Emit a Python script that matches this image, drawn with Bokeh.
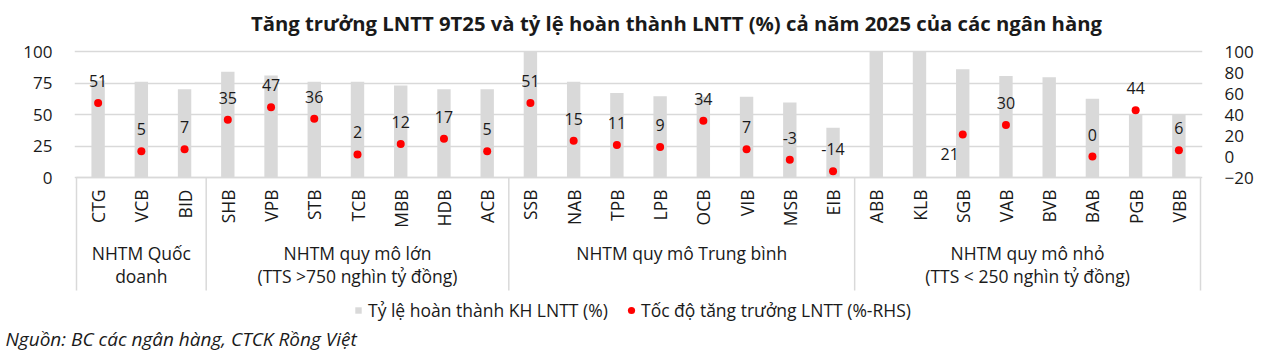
import math
from bokeh.plotting import figure
from bokeh.models import (Range1d, LinearAxis, FixedTicker, ColumnDataSource,
                          Legend, LegendItem, Title)
from bokeh.core.properties import value
from bokeh.embed import file_html
from bokeh.resources import INLINE

# ---------------- data ----------------
banks = ["CTG", "VCB", "BID",
         "SHB", "VPB", "STB", "TCB", "MBB", "HDB", "ACB",
         "SSB", "NAB", "TPB", "LPB", "OCB", "VIB", "MSB", "EIB",
         "ABB", "KLB", "SGB", "VAB", "BVB", "BAB", "PGB", "VBB"]
completion = [77, 76, 70,
              84, 81, 76, 76, 73, 70, 70,
              100, 76, 67, 64.5, 64, 64, 59.5, 39.5,
              100, 100, 86, 80.5, 79.5, 62.5, 50, 50]
growth = [51, 5, 7,
          35, 47, 36, 2, 12, 17, 5,
          51, 15, 11, 9, 34, 7, -3, -14,
          None, None, 21, 30, None, 0, 44, 6]
group_names = [["NHTM Quốc", "doanh"],
               ["NHTM quy mô lớn", "(TTS >750 nghìn tỷ đồng)"],
               ["NHTM quy mô Trung bình"],
               ["NHTM quy mô nhỏ", "(TTS < 250 nghìn tỷ đồng)"]]
group_sizes = [3, 7, 8, 8]
left_ticks = [0, 25, 50, 75, 100]
right_ticks = [-20, 0, 20, 40, 60, 80, 100]

title_text = "Tăng trưởng LNTT 9T25 và tỷ lệ hoàn thành LNTT (%) cả năm 2025 của các ngân hàng"
legend_bar = "Tỷ lệ hoàn thành KH LNTT (%)"
legend_dot = "Tốc độ tăng trưởng LNTT (%-RHS)"
source_text = "Nguồn: BC các ngân hàng, CTCK Rồng Việt"

FONT = "Open Sans"
GREY = "#d9d9d9"
TXT = "#1a1a1a"

# ---------------- geometry (pixels) ----------------
W, H = 1280, 352
HA = 322              # height of the plotting frame
X0PX, X1PX = 76, 1200  # category band
Y0PX, Y100PX = 177, 51  # left-axis 0 and 100
FL, FR = 74, 1202      # frame left/right
n = len(banks)
ppx = (X1PX - X0PX) / n
ppy = (Y0PX - Y100PX) / 100.0
ppr = (Y0PX - Y100PX) / 120.0

def X(px):
    return (px - X0PX) / ppx

def Y(py):
    return (Y0PX - py) / ppy

xs = [i + 0.5 for i in range(n)]

p = figure(frame_width=FR - FL, frame_height=HA,
           min_border_left=FL, min_border_right=W - FR,
           min_border_top=0, min_border_bottom=H - HA,
           x_range=Range1d(X(FL), X(FR)), y_range=Range1d(Y(HA), Y(0)),
           x_axis_type=None,
           output_backend="svg", toolbar_location=None,
           background_fill_color="white", border_fill_color="white")
p.outline_line_color = None
p.xgrid.visible = False
p.ygrid.grid_line_color = GREY
p.ygrid.grid_line_width = 1.5
p.ygrid.ticker = FixedTicker(ticks=left_ticks)

# left axis
p.yaxis.ticker = FixedTicker(ticks=left_ticks)
p.yaxis.axis_line_color = None
p.yaxis.major_tick_line_color = None
p.yaxis.minor_tick_line_color = None
p.yaxis.major_label_text_font = FONT
p.yaxis.major_label_text_font_size = "17px"
p.yaxis.major_label_text_color = TXT
p.yaxis.major_label_standoff = 16

# right axis (-20 at 0-line, 100 at top line)
p.extra_y_ranges = {"r": Range1d(-20 - (HA - Y0PX) / ppr, 100 + Y100PX / ppr)}
ra = LinearAxis(y_range_name="r", ticker=FixedTicker(ticks=right_ticks))
ra.axis_line_color = None
ra.major_tick_line_color = None
ra.minor_tick_line_color = None
ra.major_label_text_font = FONT
ra.major_label_text_font_size = "17px"
ra.major_label_text_color = TXT
ra.major_label_standoff = 16
p.add_layout(ra, "right")

# bars
bar_src = ColumnDataSource(dict(x=xs, top=completion))
bars = p.vbar(x="x", top="top", width=0.31, bottom=0, source=bar_src,
              fill_color=GREY, line_color=None)

# category axis line and group separators
bounds = [0]
for s in group_sizes:
    bounds.append(bounds[-1] + s)
p.segment(x0=[0], y0=[0], x1=[n], y1=[0], line_color=GREY, line_width=1.5)
p.segment(x0=bounds, y0=[0] * len(bounds), x1=bounds, y1=[Y(290)] * len(bounds),
          line_color=GREY, line_width=1.5)

# bank names (rotated tick labels)
p.text(x=xs, y=[Y(Y0PX + 12)] * n, text=banks, angle=math.pi / 2,
       text_align="right", text_baseline="middle",
       text_font=value(FONT), text_font_size="17.5px", text_color=TXT)

# dots + value labels
dx, dy, dl, xo, yo = [], [], [], [], []
for x, g, b in zip(xs, growth, banks):
    if g is None:
        continue
    dx.append(x)
    dy.append(g)
    dl.append(str(g))
    if b == "SGB":
        xo.append(-13)
        yo.append(20)
    else:
        xo.append(0)
        yo.append(-22)
dot_src = ColumnDataSource(dict(x=dx, y=dy, lab=dl, xo=xo, yo=yo))
dots = p.scatter(x="x", y="y", size=8, marker="circle", fill_color="#ff0000",
                 line_color=None, y_range_name="r", source=dot_src)
p.text(x="x", y="y", text="lab", x_offset="xo", y_offset="yo", y_range_name="r",
       source=dot_src, text_align="center", text_baseline="middle",
       text_font=value(FONT), text_font_size="16px", text_color=TXT)

# group labels
gx, gy, gt = [], [], []
for i, lines in enumerate(group_names):
    cx = (bounds[i] + bounds[i + 1]) / 2
    for j, line in enumerate(lines):
        gx.append(cx)
        gy.append(Y(252 + 23 * j))
        gt.append(line)
p.text(x=gx, y=gy, text=gt, text_align="center", text_baseline="middle",
       text_font=value(FONT), text_font_size="17.5px", text_color=TXT)

# title
p.text(x=[X(676)], y=[Y(22)], text=[title_text], text_align="center",
       text_baseline="middle", text_font=value(FONT), text_font_style="bold",
       text_font_size="20.3px", text_color=TXT)

# legends (one per entry so each key gets its own glyph size)
leg_common = dict(orientation="horizontal", padding=0, margin=0, spacing=0,
                  label_text_font=FONT, label_text_font_size="17.5px",
                  label_text_color=TXT, label_text_baseline="middle",
                  border_line_color=None, background_fill_alpha=0)
leg1 = Legend(items=[LegendItem(label=legend_bar, renderers=[bars])],
              location=(354 - FL, 0), glyph_width=8, glyph_height=8,
              label_standoff=6, label_height=8, **leg_common)
leg2 = Legend(items=[LegendItem(label=legend_dot, renderers=[dots])],
              location=(622 - FL, 0), glyph_width=18, glyph_height=18,
              label_standoff=1, label_height=18, **leg_common)
p.add_layout(leg1, "center")
p.add_layout(leg2, "center")

# source line
src_title = Title(text=source_text, align="left", offset=5 - FL, standoff=2,
                  text_font=FONT, text_font_style="italic", text_font_size="19px",
                  text_color=TXT)
p.add_layout(src_title, "below")

open("out.html", "w").write(file_html(p, INLINE))
